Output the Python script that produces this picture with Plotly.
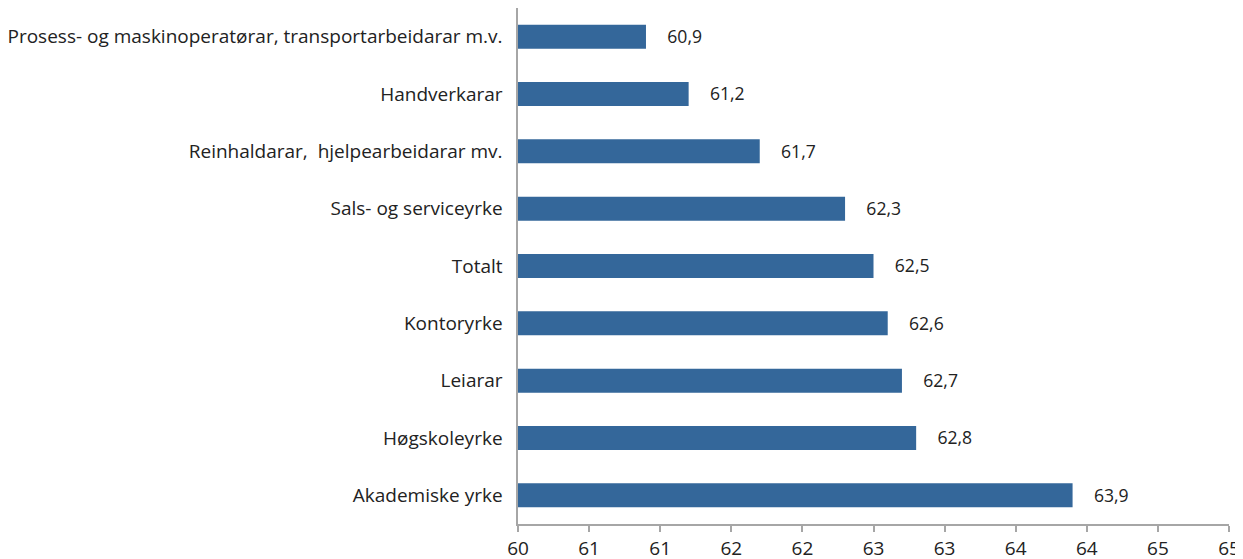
import plotly.graph_objects as go

categories = [
    "Prosess- og maskinoperatørar, transportarbeidarar m.v.",
    "Handverkarar",
    "Reinhaldarar,  hjelpearbeidarar mv.",
    "Sals- og serviceyrke",
    "Totalt",
    "Kontoryrke",
    "Leiarar",
    "Høgskoleyrke",
    "Akademiske yrke",
]
values = [60.9, 61.2, 61.7, 62.3, 62.5, 62.6, 62.7, 62.8, 63.9]
tick_vals = [60, 60.5, 61, 61.5, 62, 62.5, 63, 63.5, 64, 64.5, 65]
tick_text = ["60", "61", "61", "62", "62", "63", "63", "64", "64", "65", "65"]

labels = ["    " + f"{v:.1f}".replace(".", ",") for v in values]

fig = go.Figure(go.Bar(
    x=values,
    y=categories,
    orientation="h",
    marker=dict(color="#34679a", line=dict(width=0)),
    text=labels,
    textposition="outside",
    textfont=dict(size=19, color="#222222", family="Open Sans"),
    cliponaxis=False,
    width=0.42,
))

fig.update_layout(
    width=1235, height=551,
    margin=dict(l=510, r=14, t=0, b=35, autoexpand=False),
    paper_bgcolor="white", plot_bgcolor="white",
    font=dict(family="Open Sans", size=19, color="#222222"),
    showlegend=False,
    xaxis=dict(
        range=[60, 65],
        tickvals=tick_vals,
        ticktext=tick_text,
        showgrid=False,
        zeroline=False,
        automargin=False,
        showline=True, linecolor="#a6a6a6", linewidth=1.5,
        ticks="outside", tickcolor="#a6a6a6", ticklen=6, tickwidth=1.5,
        tickfont=dict(size=19, color="#222222"),
    ),
    yaxis=dict(
        autorange="reversed",
        showgrid=False,
        zeroline=False,
        automargin=False,
        showline=True, linecolor="#a6a6a6", linewidth=1.5,
        ticks="", ticksuffix="  ",
        tickfont=dict(size=19, color="#222222"),
    ),
)

fig.write_html("out.html")
